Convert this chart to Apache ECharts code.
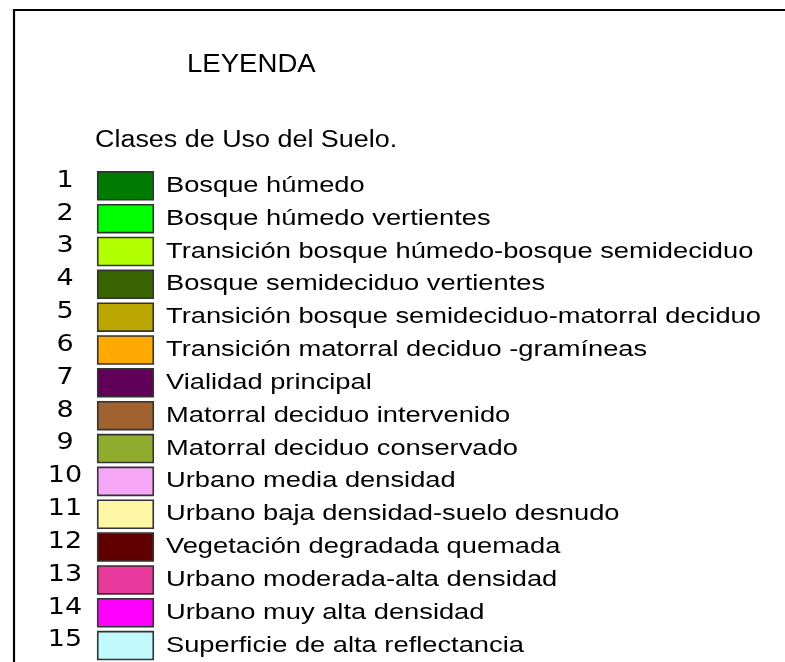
<!DOCTYPE html>
<html>
<head>
<meta charset="utf-8">
<script src="https://cdn.jsdelivr.net/npm/echarts@6/dist/echarts.min.js"></script>
<style>
html,body{margin:0;padding:0;background:#fff;}
#chart{width:785px;height:662px;}
</style>
</head>
<body>
<div id="chart"></div>
<script>
const legendTitle = 'LEYENDA';
const legendSubtitle = 'Clases de Uso del Suelo.';
const classNumbers = ['1','2','3','4','5','6','7','8','9','10','11','12','13','14','15'];
const classNames = [
  'Bosque húmedo',
  'Bosque húmedo vertientes',
  'Transición bosque húmedo-bosque semideciduo',
  'Bosque semideciduo vertientes',
  'Transición bosque semideciduo-matorral deciduo',
  'Transición matorral deciduo -gramíneas',
  'Vialidad principal',
  'Matorral deciduo intervenido',
  'Matorral deciduo conservado',
  'Urbano media densidad',
  'Urbano baja densidad-suelo desnudo',
  'Vegetación degradada quemada',
  'Urbano moderada-alta densidad',
  'Urbano muy alta densidad',
  'Superficie de alta reflectancia'
];
const classColors = [
  '#007a00', '#00ff00', '#b2ff00', '#386400', '#bca600',
  '#ffaa00', '#600058', '#a0622f', '#8fac2f', '#f5a6f7',
  '#fff6a6', '#600000', '#e8399c', '#ff00ff', '#c0fafd'
];

const chart = echarts.init(document.getElementById('chart'), null, {renderer: 'canvas'});

const option = {
  backgroundColor: '#ffffff',
  animation: false,
  grid: {left: 97, width: 57, top: 169.4, height: 498, containLabel: false},
  xAxis: {type: 'value', min: 0, max: 1, show: false},
  yAxis: {type: 'category', data: classNumbers, inverse: true, show: false},
  graphic: [
    {type: 'rect', shape: {x: 14, y: 10, width: 820, height: 700}, style: {fill: 'none', stroke: '#000', lineWidth: 2.2}, silent: true},
    {type: 'text', x: 187, y: 65, scaleX: 1.04, style: {text: legendTitle, font: '26.5px "Liberation Sans", Arial, sans-serif', fill: '#000', verticalAlign: 'middle'}},
    {type: 'text', x: 95, y: 141, scaleX: 1.17, style: {text: legendSubtitle, font: '23px "Liberation Sans", Arial, sans-serif', fill: '#000', verticalAlign: 'middle'}}
  ],
  series: [{
    type: 'custom',
    coordinateSystem: 'cartesian2d',
    encode: {y: 0},
    data: classNumbers.map((n, i) => ({name: classNames[i], value: [i]})),
    renderItem: function (params, api) {
      const i = params.dataIndex;
      const a = api.coord([0, i]);
      const b = api.coord([1, i]);
      const band = api.size([0, 1])[1];
      const h = band * 0.85;
      return {
        type: 'group',
        children: [
          {type: 'rect', shape: {x: a[0] + 0.75, y: a[1] - h / 2, width: b[0] - a[0] - 1.5, height: h},
           style: {fill: classColors[i], stroke: '#333333', lineWidth: 1.6}},
          {type: 'text', x: b[0] + 12, y: a[1], scaleX: 1.24,
           style: {text: classNames[i], font: '22px "Liberation Sans", Arial, sans-serif', fill: '#000', textAlign: 'left', verticalAlign: 'middle'}},
          {type: 'text', x: a[0] - 32, y: a[1] - 5, scaleX: 1.2,
           style: {text: classNumbers[i], font: '22.5px "DejaVu Sans", sans-serif', fill: '#000', textAlign: 'center', verticalAlign: 'middle'}}
        ]
      };
    }
  }]
};
chart.setOption(option);
</script>
</body>
</html>
